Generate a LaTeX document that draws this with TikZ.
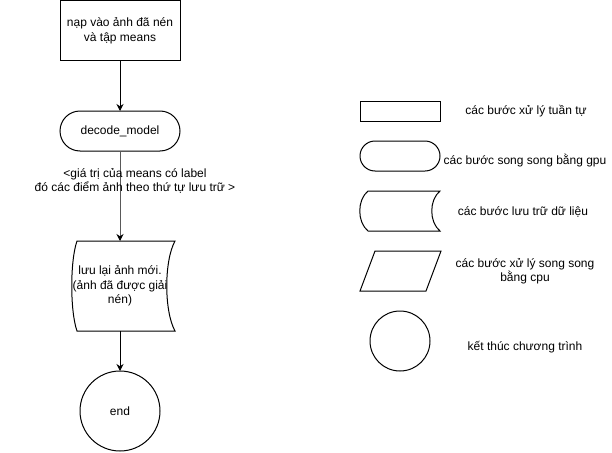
\documentclass[tikz,border=0pt]{standalone}
\usepackage{fontspec}
\setmainfont{Liberation Sans}
\usepackage{tikz}
\usetikzlibrary{shapes.geometric}
\usetikzlibrary{positioning}
\usetikzlibrary{arrows.meta,calc}

\begin{document}
\begin{tikzpicture}[
x=1pt, y=-1pt,
node distance = 50pt,
font=\fontsize{12}{14.5}\selectfont,
line width=1pt,
every node/.append style={outer sep=0pt},
>={Stealth[length=7pt,width=7pt,color=black]},
process/.style={rectangle,minimum width = 120pt,minimum height = 60pt,draw,align=center,inner sep=0pt},
gpu/.style={rectangle,rounded corners=20pt,minimum width = 120pt,minimum height = 40pt,draw,inner sep=0pt},
storage/.style={rectangle,minimum width = 104pt,minimum height = 90pt,align=center,inner sep=0pt},
finish/.style={circle,minimum size = 80pt,draw,inner sep=0pt},
legend/.style={align=center}]
\useasboundingbox (0,-1) rectangle (612,451);
% main flow
\node [process] (load) at (120,30) {nạp vào ảnh đã nén\\và tập means};
\node [gpu] (decode) [below=of load] {decode\_model} edge [<-] (load);
\node [storage] (store) [below=90pt of decode] {lưu lại ảnh mới.\\(ảnh đã được giải\\nén)};
\draw [shift={(store.center)}] (-43,-45) -- (55,-45) .. controls (44,-25) and (44,25) .. (55,45)
  -- (-43,45) .. controls (-50,25) and (-50,-25) .. cycle;
\draw [->,draw=black!65] (decode) -- (store.north);
\node [legend] (note) at (135,180) {<giá trị của means có label\\đó các điểm ảnh theo thứ tự lưu trữ >};
\node [finish] (end) [below=40pt of store] {end};
\draw [->] (store.south) -- (end);
% legend
\node [rectangle,draw,minimum width=80pt,minimum height=20pt] (lproc) at (400,110) {};
\node [legend] (tproc) at (526,110) {các bước xử lý tuần tự};
\node [rectangle,rounded corners=15pt,draw,minimum width=80pt,minimum height=30pt] (lgpu) at (400,155) {};
\node [legend] (tgpu) at (525,160) {các bước song song bằng gpu};
\node [rectangle,minimum width=80pt,minimum height=40pt] (lstore) at (400,210) {};
\draw [shift={(lstore.center)}] (-32,-20) -- (40,-20) .. controls (29,-11) and (29,11) .. (40,20)
  -- (-32,20) .. controls (-43,11) and (-43,-11) .. cycle;
\node [legend] (tstore) at (523,211) {các bước lưu trữ dữ liệu};
\node [rectangle,minimum width=81pt,minimum height=40pt] (lcpu) at (400.5,270) {};
\draw (lcpu.south west) -- ([xshift=15pt]lcpu.north west) -- (lcpu.north east)
  -- ([xshift=-15pt]lcpu.south east) -- cycle;
\node [legend] (tcpu) at (525,270) {các bước xử lý song song\\bằng cpu};
\node [circle,draw,minimum size=60pt,inner sep=0pt] (lend) at (400,340) {};
\node [legend] (tend) at (525,346) {kết thúc chương trình};
\end{tikzpicture}
\end{document}
